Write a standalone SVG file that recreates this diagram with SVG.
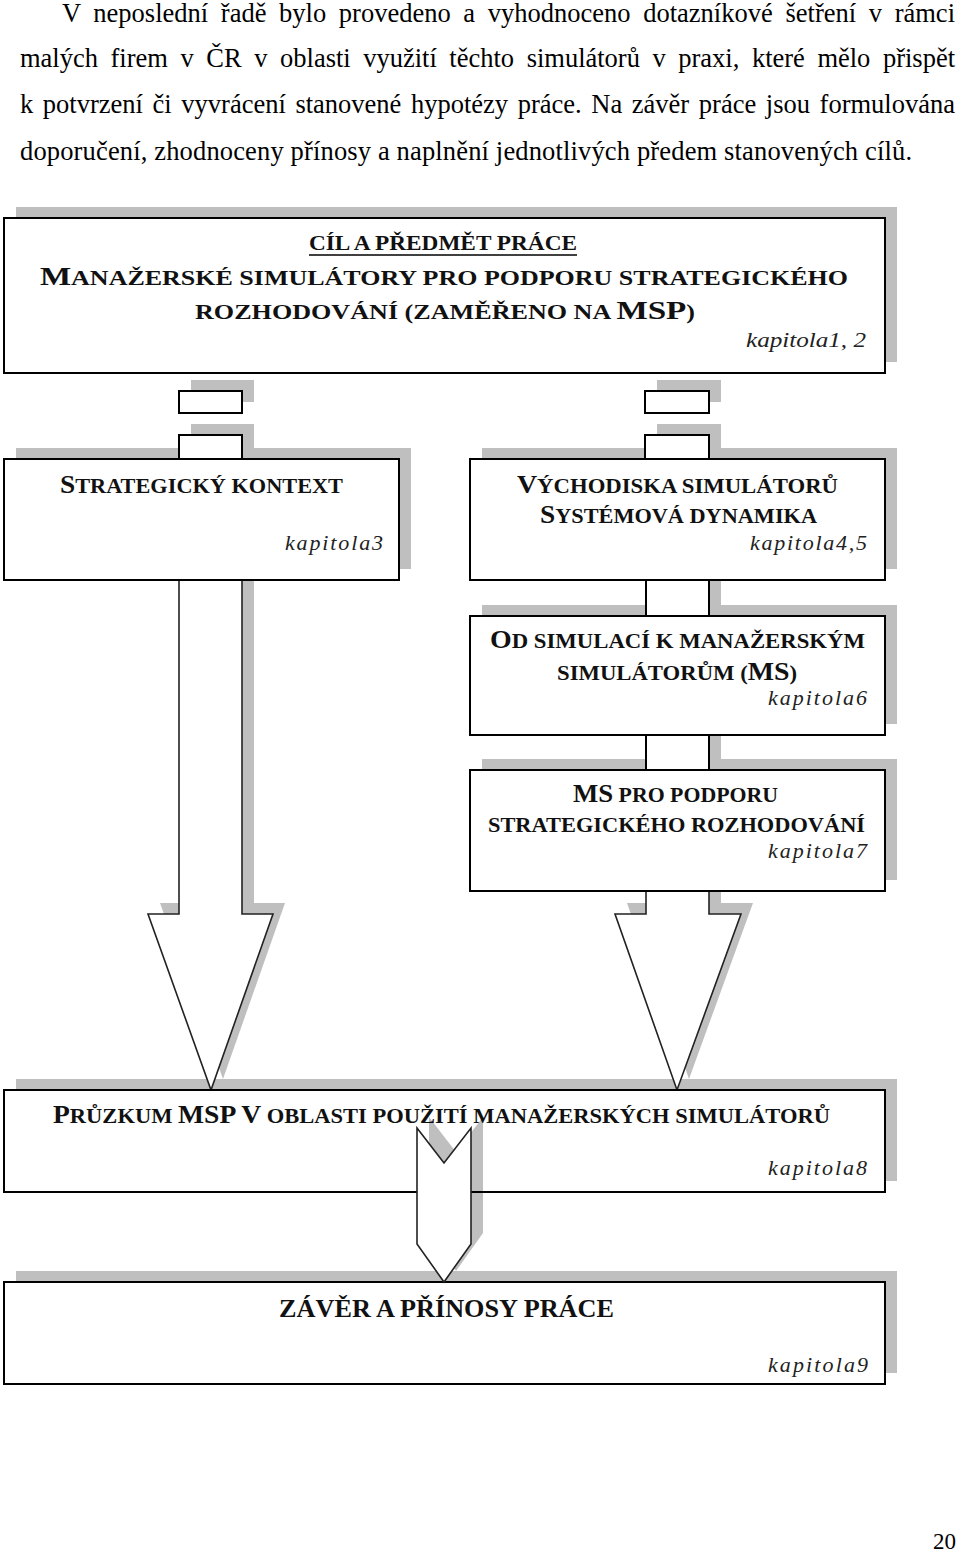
<svg xmlns="http://www.w3.org/2000/svg" width="960" height="1554" viewBox="0 0 960 1554">
<style>
.p{font-family:"Liberation Serif","Times New Roman",serif;font-size:26.5px;fill:#000}
.t{font-family:"Liberation Serif","Times New Roman",serif;font-weight:bold;font-size:20px;fill:#111}
.b{font-size:24.5px}
.k{font-family:"Liberation Serif","Times New Roman",serif;font-style:italic;font-size:22px;fill:#222}
.box{fill:#fff;stroke:#000;stroke-width:2}
.sh{fill:#000;fill-opacity:0.25;stroke:none}
.con{fill:#fff;stroke:#000;stroke-width:2}
.arr{fill:#fff;stroke:#222;stroke-width:1.6;stroke-linejoin:miter}
</style>
<rect width="960" height="1554" fill="#fff"/>
<g id="paragraph">
<text class="p" x="62" y="22" word-spacing="6" textLength="893" lengthAdjust="spacing">V neposlední řadě bylo provedeno a vyhodnoceno dotazníkové šetření v rámci</text>
<text class="p" x="20" y="67" word-spacing="6" textLength="935" lengthAdjust="spacing">malých firem v ČR v oblasti využití těchto simulátorů v praxi, které mělo přispět</text>
<text class="p" x="20" y="113" word-spacing="3" textLength="935" lengthAdjust="spacing">k potvrzení či vyvrácení stanovené hypotézy práce. Na závěr práce jsou formulována</text>
<text class="p" x="20" y="160" textLength="892" lengthAdjust="spacing">doporučení, zhodnoceny přínosy a naplnění jednotlivých předem stanovených cílů.</text>
</g>
<g id="shadows">
<rect class="sh" x="16" y="207" width="881" height="155"/>
<rect class="sh" x="191" y="380" width="63" height="22"/>
<rect class="sh" x="657" y="380" width="64" height="22"/>
<rect class="sh" x="16" y="448" width="395" height="121"/>
<rect class="sh" x="482" y="448" width="415" height="121"/>
<rect class="sh" x="482" y="605" width="415" height="119"/>
<rect class="sh" x="482" y="759" width="415" height="121"/>
<rect class="sh" x="16" y="1079" width="881" height="102"/>
<rect class="sh" x="16" y="1271" width="881" height="102"/>
<rect class="sh" x="191" y="424" width="63" height="24"/>
<rect class="sh" x="657" y="424" width="64" height="24"/>
<rect class="sh" x="658" y="569" width="63" height="36"/>
<rect class="sh" x="658" y="724" width="63" height="35"/>
<path class="sh" d="M191,569 V903 H160 L223,1079 L285,903 H254 V569 Z"/>
<path class="sh" d="M658,880 V903 H627 L689,1079 L753,903 H721 V880 Z"/>
</g>
<g id="connectors">
<rect class="con" x="179" y="391" width="63" height="22"/>
<rect class="con" x="645" y="391" width="64" height="22"/>
<rect class="con" x="179" y="435" width="63" height="24"/>
<rect class="con" x="645" y="435" width="64" height="24"/>
<rect class="con" x="646" y="580" width="63" height="36"/>
<rect class="con" x="646" y="735" width="63" height="35"/>
<path class="arr" d="M179,580 V914 H148 L211,1090 L273,914 H242 V580" stroke-width="2"/>
<path class="arr" d="M646,891 V914 H615 L677,1090 L741,914 H709 V891"/>
</g>
<g id="box1">
<rect class="box" x="4" y="218" width="881" height="155"/>
<text class="t" x="309" y="250" style="font-size:20.5px" textLength="268" lengthAdjust="spacingAndGlyphs">CÍL A PŘEDMĚT PRÁCE</text>
<line x1="309" y1="255" x2="577" y2="255" stroke="#000" stroke-width="1.5"/>
<text class="t" x="40" y="285" style="font-size:20.5px" textLength="808" lengthAdjust="spacingAndGlyphs"><tspan style="font-size:26px">M</tspan>ANAŽERSKÉ SIMULÁTORY PRO PODPORU STRATEGICKÉHO</text>
<text class="t" x="195" y="319" style="font-size:20.5px" textLength="500" lengthAdjust="spacingAndGlyphs">ROZHODOVÁNÍ (ZAMĚŘENO NA <tspan style="font-size:26px">MSP</tspan>)</text>
<text class="k" x="746" y="347" textLength="120" lengthAdjust="spacingAndGlyphs">kapitola1, 2</text>
</g>
<g id="box2">
<rect class="box" x="4" y="459" width="395" height="121"/>
<text class="t" x="60" y="493" textLength="283" lengthAdjust="spacingAndGlyphs"><tspan class="b">S</tspan>TRATEGICKÝ KONTEXT</text>
<text class="k" x="285" y="550" textLength="98" lengthAdjust="spacing">kapitola3</text>
</g>
<g id="box3">
<rect class="box" x="470" y="459" width="415" height="121"/>
<text class="t" x="517" y="493" textLength="321" lengthAdjust="spacingAndGlyphs"><tspan class="b">V</tspan>ÝCHODISKA SIMULÁTORŮ</text>
<text class="t" x="540" y="523" textLength="277" lengthAdjust="spacingAndGlyphs"><tspan class="b">S</tspan>YSTÉMOVÁ DYNAMIKA</text>
<text class="k" x="750" y="550" textLength="117" lengthAdjust="spacing">kapitola4,5</text>
</g>
<g id="box6">
<rect class="box" x="470" y="616" width="415" height="119"/>
<text class="t" x="490" y="648" textLength="375" lengthAdjust="spacingAndGlyphs"><tspan class="b">O</tspan>D SIMULACÍ K MANAŽERSKÝM</text>
<text class="t" x="557" y="680" textLength="240" lengthAdjust="spacingAndGlyphs">SIMULÁTORŮM (<tspan class="b">MS</tspan>)</text>
<text class="k" x="768" y="705" textLength="99" lengthAdjust="spacing">kapitola6</text>
</g>
<g id="box7">
<rect class="box" x="470" y="770" width="415" height="121"/>
<text class="t" x="573" y="802" textLength="205" lengthAdjust="spacingAndGlyphs"><tspan class="b">MS</tspan> PRO PODPORU</text>
<text class="t" x="488" y="832" textLength="377" lengthAdjust="spacingAndGlyphs">STRATEGICKÉHO ROZHODOVÁNÍ</text>
<text class="k" x="768" y="858" textLength="99" lengthAdjust="spacing">kapitola7</text>
</g>
<g id="box8">
<rect class="box" x="4" y="1090" width="881" height="102"/>
<text class="t" x="53" y="1123" textLength="777" lengthAdjust="spacingAndGlyphs"><tspan class="b">P</tspan>RŮZKUM <tspan class="b">MSP V</tspan> OBLASTI POUŽITÍ MANAŽERSKÝCH SIMULÁTORŮ</text>
<text class="k" x="768" y="1175" textLength="99" lengthAdjust="spacing">kapitola8</text>
</g>
<g id="box9">
<rect class="box" x="4" y="1282" width="881" height="102"/>
<text class="t" x="279" y="1317" style="font-size:25px" textLength="335" lengthAdjust="spacingAndGlyphs">ZÁVĚR A PŘÍNOSY PRÁCE</text>
<text class="k" x="768" y="1372" textLength="100" lengthAdjust="spacing">kapitola9</text>
</g>
<g id="connector-8-9">
<path class="sh" d="M429,1117 L456,1152 L483,1117 V1233 L456,1271 L429,1233 Z"/>
<path class="arr" d="M417,1128 L444,1163 L471,1128 V1244 L444,1282 L417,1244 Z"/>
</g>
<text class="p" x="956" y="1549" text-anchor="end" style="font-size:23px">20</text>
</svg>
